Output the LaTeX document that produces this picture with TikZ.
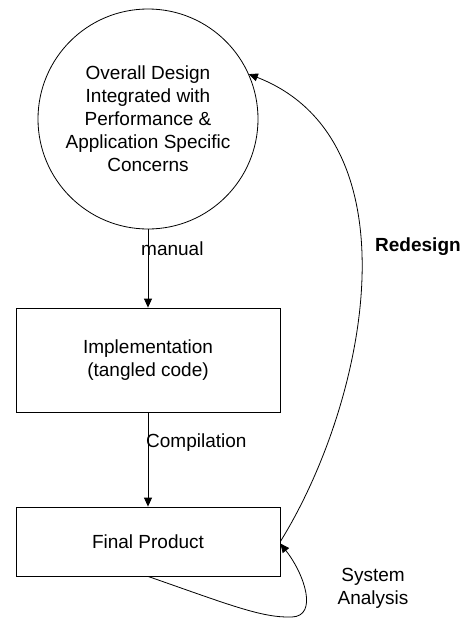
\documentclass[tikz,border=0pt]{standalone}
\usepackage{fontspec}
\setmainfont{Liberation Sans}
\usetikzlibrary{arrows.meta}
\begin{document}
\begin{tikzpicture}[x=1pt,y=-1pt,
  lbl/.style={font=\fontsize{19}{23}\selectfont, align=center, inner sep=0pt},
  boxnode/.style={draw, line width=0.8pt, minimum width=264pt, inner sep=0pt},
  arr/.style={line width=0.8pt, -{Triangle[length=9pt,width=8pt]}},
  con/.style={line width=0.8pt}]
\useasboundingbox (0,0) rectangle (465,619);
\node[circle, draw, line width=0.8pt, minimum size=220pt, inner sep=0pt, lbl] (design) at (148,119)
  {Overall Design\\Integrated with\\Performance \&\\Application Specific\\Concerns};
\node[boxnode, minimum height=104pt, lbl] (impl) at (148,360) {Implementation\\(tangled code)};
\node[boxnode, minimum height=69pt, lbl] (final) at (148,541.5) {Final Product};
\node[lbl, anchor=west] (manual) at (141,249) {manual};
\node[lbl, anchor=west] (compil) at (146,443) {Compilation};
\node[lbl, anchor=west, font=\fontsize{19}{23}\selectfont\bfseries] (redesign) at (375,247) {Redesign};
\node[lbl] (sysan) at (373,588) {System\\Analysis};
\draw[arr] (design.south) -- (impl.north);
\draw[arr] (impl.south) -- (final.north);
\draw[arr] (final.east) .. controls (368,400) and (418,140) .. (design.24);
\coordinate (loopbot) at (292,617);
\draw[arr] (final.south) .. controls (230,605) and (262,618) .. (loopbot)
  .. controls (318,616) and (305,575) .. ([yshift=-2pt]final.east);
\end{tikzpicture}
\end{document}
